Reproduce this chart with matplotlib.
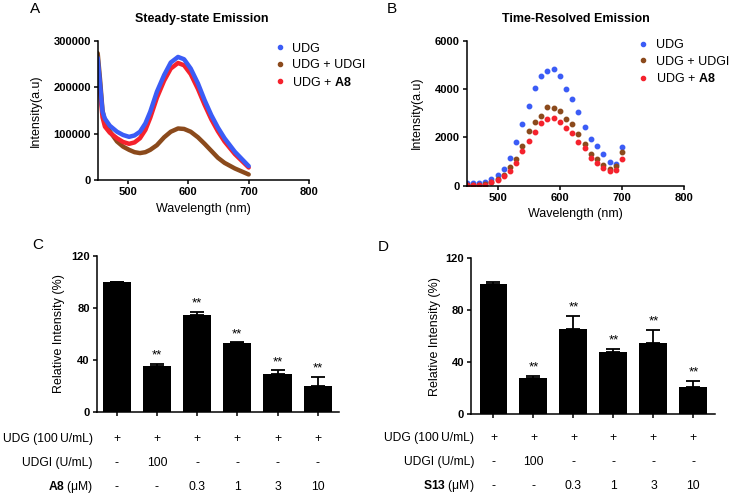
"""Emission spectra (A, B) and relative intensity bars (C, D)."""

import numpy as np
from matplotlib import pyplot as plt
from matplotlib.lines import Line2D

plt.rcParams["font.family"] = ["Liberation Sans", "DejaVu Sans"]
plt.rcParams["mathtext.fontset"] = "custom"
plt.rcParams["mathtext.rm"] = "Liberation Sans"
plt.rcParams["mathtext.bf"] = "Liberation Sans:bold"

# ---- Panel A: steady-state emission (values in counts) ----
wl_a = [450, 454, 458, 462, 470, 482, 492, 502, 511, 520, 529, 537, 548,
        560, 571, 583, 593, 604, 616, 627, 638, 649, 660, 677, 700]
ss_udg = [263000, 205000, 147000, 132000, 117000, 104000, 97000, 93000, 96000, 104000,
          122000, 147000, 190000, 226000, 253000, 265000, 260000, 240000, 208000,
          172000, 140000, 113000, 90000, 61000, 30000]
ss_udgi = [273000, 215000, 150000, 125000, 105000, 83000, 72000, 65000, 60000, 58000,
           60000, 65000, 75000, 92000, 104000, 111000, 110000, 104000, 92000,
           78000, 63000, 48000, 37000, 25000, 12000]
ss_a8 = [245000, 190000, 135000, 115000, 102000, 90000, 82000, 78000, 81000, 90000,
         108000, 134000, 177000, 214000, 240000, 252000, 247000, 228000, 196000,
         162000, 131000, 105000, 83000, 56000, 27000]

# ---- Panel B: time-resolved emission ----
wl_b = list(range(450, 701, 10))
tr_udg = [100, 100, 100, 150, 260, 440, 700, 1160, 1820, 2570, 3310, 4030, 4520,
          4740, 4830, 4520, 4000, 3570, 3060, 2450, 1940, 1630, 1300, 970, 910, 1600]
tr_udgi = [40, 30, 30, 50, 170, 280, 450, 760, 1120, 1630, 2250, 2620, 2900,
           3240, 3230, 3080, 2770, 2540, 2150, 1720, 1300, 1090, 870, 700, 800, 1390]
tr_a8 = [10, 10, 10, 30, 140, 230, 390, 620, 950, 1420, 1860, 2220, 2580,
         2760, 2810, 2630, 2370, 2170, 1810, 1560, 1140, 950, 730, 590, 630, 1100]

# ---- Panels C, D: relative intensity (%) ----
rel_c = [100, 35, 74, 53, 29, 20]
err_c = [0, 2, 3, 0.5, 3, 7]
rel_d = [100, 28, 66, 48, 55, 21]
err_d = [2, 1.5, 10, 2.5, 10, 5]
stars = ["", "**", "**", "**", "**", "**"]

row_udg = ["+", "+", "+", "+", "+", "+"]
row_udgi = ["-", "100", "-", "-", "-", "-"]
row_cmpd = ["-", "-", "0.3", "1", "3", "10"]

BLUE = "#3b5cf6"
BROWN = "#8b4a1c"
RED = "#f5222d"
TICK_FS = 8
LAB_FS = 9
TABLE_FS = 8.7


def style_axes(ax):
    for side in ("top", "right"):
        ax.spines[side].set_visible(False)
    for side in ("left", "bottom"):
        ax.spines[side].set_linewidth(1.1)
    ax.tick_params(direction="out", length=3, width=1.1, labelsize=TICK_FS, pad=2)
    for lab in ax.get_xticklabels() + ax.get_yticklabels():
        lab.set_fontweight("bold")


def add_legend(ax, anchor):
    handles = [
        Line2D([], [], ls="none", marker="o", ms=3, color=BLUE, label="UDG"),
        Line2D([], [], ls="none", marker="o", ms=3, color=BROWN, label="UDG + UDGI"),
        Line2D([], [], ls="none", marker="o", ms=3, color=RED, label=r"UDG + $\mathbf{A8}$"),
    ]
    ax.legend(handles=handles, loc="upper left", bbox_to_anchor=anchor, frameon=False,
              fontsize=LAB_FS, handlelength=0.8, handletextpad=0.6, labelspacing=0.35,
              borderpad=0, borderaxespad=0)


fig = plt.figure(figsize=(7.29, 4.96), dpi=100)

# Panel A
axA = fig.add_axes([0.134, 0.637, 0.290, 0.281])
axA.plot(wl_a, ss_udgi, color=BROWN, lw=3.2, solid_capstyle="round")
axA.plot(wl_a, ss_a8, color=RED, lw=3.2, solid_capstyle="round")
axA.plot(wl_a, ss_udg, color=BLUE, lw=3.2, solid_capstyle="round")
axA.set_xlim(450, 800)
axA.set_ylim(0, 300000)
axA.set_xticks([500, 600, 700, 800])
axA.set_yticks([0, 100000, 200000, 300000])
axA.set_xlabel("Wavelength (nm)", fontsize=LAB_FS)
axA.set_ylabel("Intensity(a.u)", fontsize=LAB_FS)
axA.xaxis.set_label_coords(0.5, -0.165)
axA.yaxis.set_label_coords(-0.264, 0.5)
style_axes(axA)
add_legend(axA, (0.838, 0.985))

# Panel B
axB = fig.add_axes([0.640, 0.6256, 0.2984, 0.2923])
axB.plot(wl_b, tr_udg, ls="none", marker="o", ms=3.2, color=BLUE)
axB.plot(wl_b, tr_udgi, ls="none", marker="o", ms=3.2, color=BROWN)
axB.plot(wl_b, tr_a8, ls="none", marker="o", ms=3.2, color=RED)
axB.set_xlim(450, 800)
axB.set_ylim(0, 6000)
axB.set_xticks([500, 600, 700, 800])
axB.set_yticks([0, 2000, 4000, 6000])
axB.set_xlabel("Wavelength (nm)", fontsize=LAB_FS)
axB.set_ylabel("Intensity(a.u)", fontsize=LAB_FS)
axB.xaxis.set_label_coords(0.5, -0.154)
axB.yaxis.set_label_coords(-0.2, 0.5)
style_axes(axB)
add_legend(axB, (0.789, 1.01))

fig.text(202 / 729, 1 - 19 / 496, "Steady-state Emission", ha="center", va="center",
         fontsize=9, fontweight="bold")
fig.text(576 / 729, 1 - 19 / 496, "Time-Resolved Emission", ha="center", va="center",
         fontsize=9, fontweight="bold")


def bar_panel(ax, vals, errs, xlim, cmpd_label, label_x, row_y, ylab_x):
    x = np.arange(len(vals))
    ax.bar(x, vals, width=0.7, color="black")
    ax.errorbar(x, vals, yerr=[np.zeros(len(errs)), errs], fmt="none", ecolor="black",
                elinewidth=1.3, capsize=5, capthick=1.3)
    for xi, v, e, s in zip(x, vals, errs, stars):
        if s:
            ax.annotate(s, (xi, v + e), xytext=(0, 1.5), textcoords="offset points",
                        ha="center", va="bottom", fontsize=9.5)
    ax.set_xlim(*xlim)
    ax.set_ylim(0, 120)
    ax.set_yticks([0, 40, 80, 120])
    ax.set_xticks(x)
    ax.set_xticklabels([])
    ax.set_ylabel("Relative Intensity (%)", fontsize=LAB_FS)
    ax.yaxis.set_label_coords(ylab_x, 0.5)
    style_axes(ax)

    # condition table under the bars
    trans = ax.get_xaxis_transform()
    rows = [("UDG (100\u2009U/mL)", row_udg), ("UDGI (U/mL)", row_udgi),
            (r"$\mathbf{" + cmpd_label + r"}$ (μM)", row_cmpd)]
    bottom, height = ax.get_position().y0, ax.get_position().height
    for ypos, (lab, vals_row) in zip(row_y, rows):
        fig.text(label_x / 729, bottom + ypos * height, lab, ha="right", va="center",
                 fontsize=TABLE_FS)
        for xi, v in zip(x, vals_row):
            ax.text(xi, ypos, v, transform=trans, ha="center", va="center",
                    fontsize=TABLE_FS)


# Panel C
axC = fig.add_axes([0.1326, 0.170, 0.3324, 0.3145])
bar_panel(axC, rel_c, err_c, (-0.5, 5.53), "A8", 93, [-0.175, -0.327, -0.483], -0.131)

# Panel D
axD = fig.add_axes([0.6461, 0.1647, 0.3347, 0.3145])
bar_panel(axD, rel_d, err_d, (-0.5625, 5.54), "S13", 474, [-0.154, -0.304, -0.46], -0.123)

# Panel letters
for px, py, letter in [(35.5, 9, "A"), (391.5, 9, "B"), (38, 245, "C"), (383.5, 247, "D")]:
    fig.text(px / 729, 1 - py / 496, letter, ha="center", va="center", fontsize=11)

fig.savefig("out.png", dpi=100)
